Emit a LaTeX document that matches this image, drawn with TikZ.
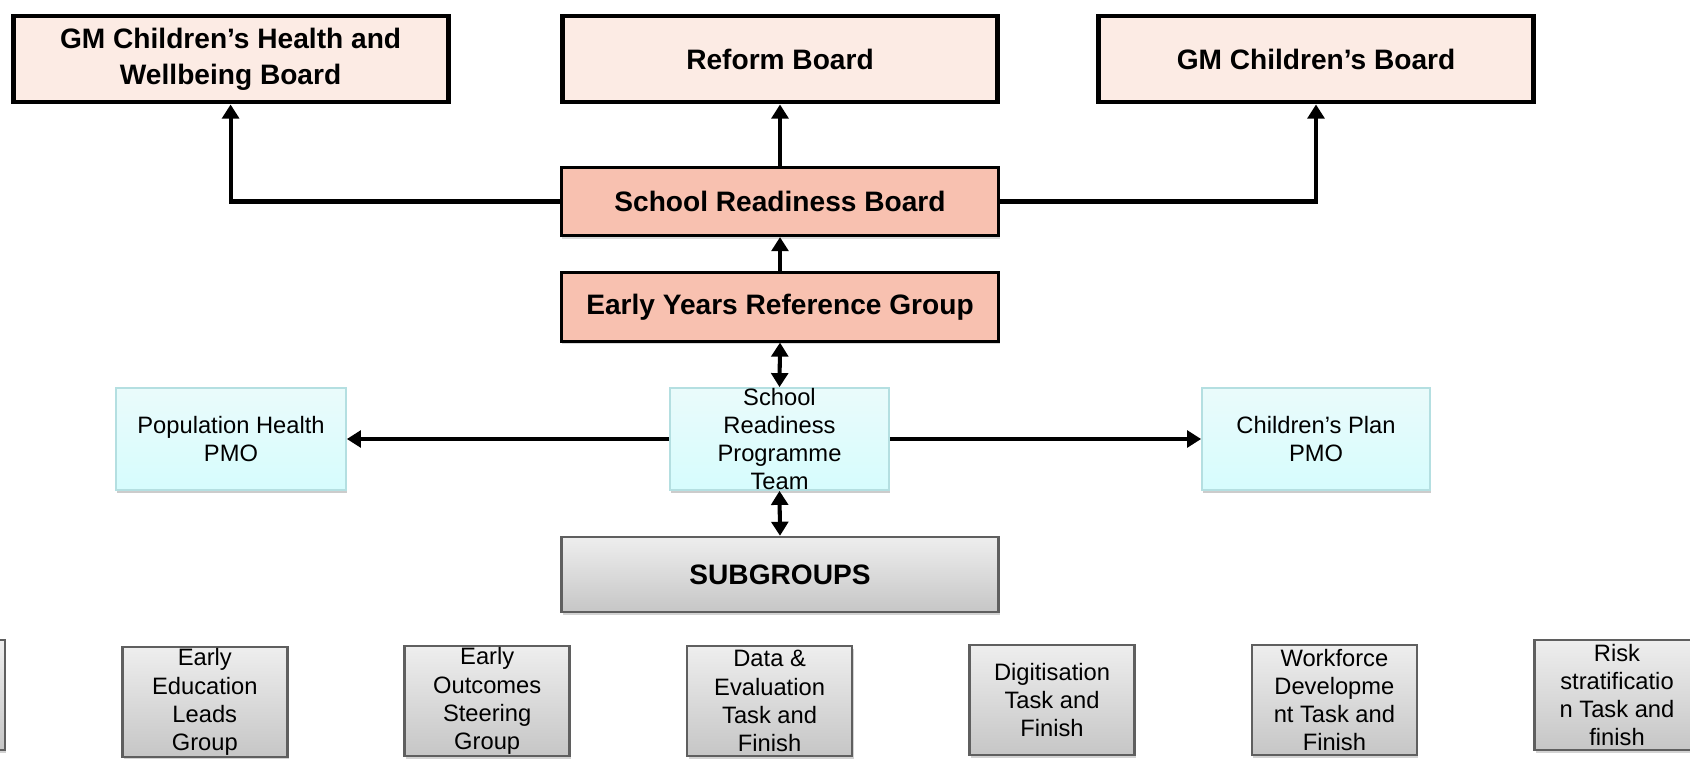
\documentclass[tikz,border=0pt]{standalone}
\usepackage{fontspec}
\setmainfont{Liberation Sans}
\usepackage{tikz}
\usepackage{xcolor}
\usetikzlibrary{arrows.meta,positioning,shadows}

\definecolor{boardpink}{RGB}{252,235,228}
\definecolor{boardsalmon}{RGB}{248,193,176}
\definecolor{pmotop}{RGB}{234,251,251}
\definecolor{pmobot}{RGB}{214,252,253}
\definecolor{pmoedge}{RGB}{180,223,225}
\definecolor{subtop}{RGB}{238,238,238}
\definecolor{subbot}{RGB}{198,198,198}
\definecolor{subedge}{RGB}{95,95,95}

\newcommand{\BoardTxt}{\fontsize{16}{20.5}\selectfont\bfseries}
\newcommand{\TeamTxt}{\fontsize{13.5}{16}\selectfont}

\tikzset{
  board/.style={rectangle,draw,line width=2.8pt,fill=boardpink,minimum width=8.7cm,minimum height=1.72cm,align=center,font=\BoardTxt},
  srbox/.style={rectangle,draw,line width=1.5pt,fill=boardsalmon,minimum width=8.75cm,minimum height=1.37cm,font=\BoardTxt,
    drop shadow={shadow xshift=0.6pt,shadow yshift=-1.6pt,opacity=0.3}},
  pmo/.style={rectangle,draw=pmoedge,line width=1pt,top color=pmotop,bottom color=pmobot,minimum height=2.04cm,align=center,font=\TeamTxt,inner ysep=0pt,
    drop shadow={shadow xshift=0.8pt,shadow yshift=-1.8pt,opacity=0.4}},
  subbox/.style={rectangle,draw=subedge,line width=1.4pt,top color=subtop,bottom color=subbot,minimum width=3.3cm,minimum height=2.2cm,align=center,font=\TeamTxt,inner sep=1pt,
    drop shadow={shadow xshift=0.8pt,shadow yshift=-1.6pt,opacity=0.35}},
  link/.style={line width=2.3pt,-{Triangle[length=8pt,width=9.5pt]}},
  twoway/.style={line width=2.3pt,{Triangle[length=8pt,width=9.5pt]}-{Triangle[length=8pt,width=9.5pt]}}
}

\begin{document}
\begin{tikzpicture}[x=0.02cm,y=-0.02cm]
    \useasboundingbox (0,0) rectangle (1690,758);

    % Boards at the top
    \node[board] (health) at (230.6,59) {GM Children’s Health and\\Wellbeing Board};
    \node[board] (reform) at (780,59) {Reform Board};
    \node[board] (childboard) at (1316,59) {GM Children’s Board};

    % School readiness board and reference group
    \node[srbox] (srb) at (780,201.5) {School Readiness Board};
    \node[srbox] (eyrg) at (780,307) {Early Years Reference Group};

    \draw[link] (srb.west) -| (health.south);
    \draw[link] (srb.north) -- (reform.south);
    \draw[link] (srb.east) -| (childboard.south);
    \draw[link] (eyrg.north) -- (srb.south);

    % Programme team and PMOs
    \node[pmo,minimum width=4.38cm] (team) at (779.5,439) {School\\Readiness\\Programme\\Team};
    \node[pmo,minimum width=4.6cm] (pophealth) at (231,439) {Population Health\\PMO};
    \node[pmo,minimum width=4.56cm] (childplan) at (1316,439) {Children’s Plan\\PMO};

    \draw[twoway] (team.north) -- (eyrg.south);
    \draw[link] (team.west) -- (pophealth.east);
    \draw[link] (team.east) -- (childplan.west);

    % Subgroups
    \node[subbox,minimum width=8.75cm,minimum height=1.5cm,font=\BoardTxt] (subgroups) at (780,574.5) {SUBGROUPS};
    \draw[twoway] (team.south) -- (subgroups.north);

    \node[subbox] (sgcut) at (-77.6,695) {};
    \node[subbox] (eel) at (204.8,702) {Early\\Education\\Leads\\Group};
    \node[subbox] (eos) at (487.2,701) {Early\\Outcomes\\Steering\\Group};
    \node[subbox] (dataeval) at (769.6,701) {Data \&\\Evaluation\\Task and\\Finish};
    \node[subbox] (digital) at (1052,700) {Digitisation\\Task and\\Finish};
    \node[subbox] (workforce) at (1334.4,700) {Workforce\\Developme\\nt Task and\\Finish};
    \node[subbox] (risk) at (1617,695) {Risk\\stratificatio\\n Task and\\finish};
\end{tikzpicture}
\end{document}
